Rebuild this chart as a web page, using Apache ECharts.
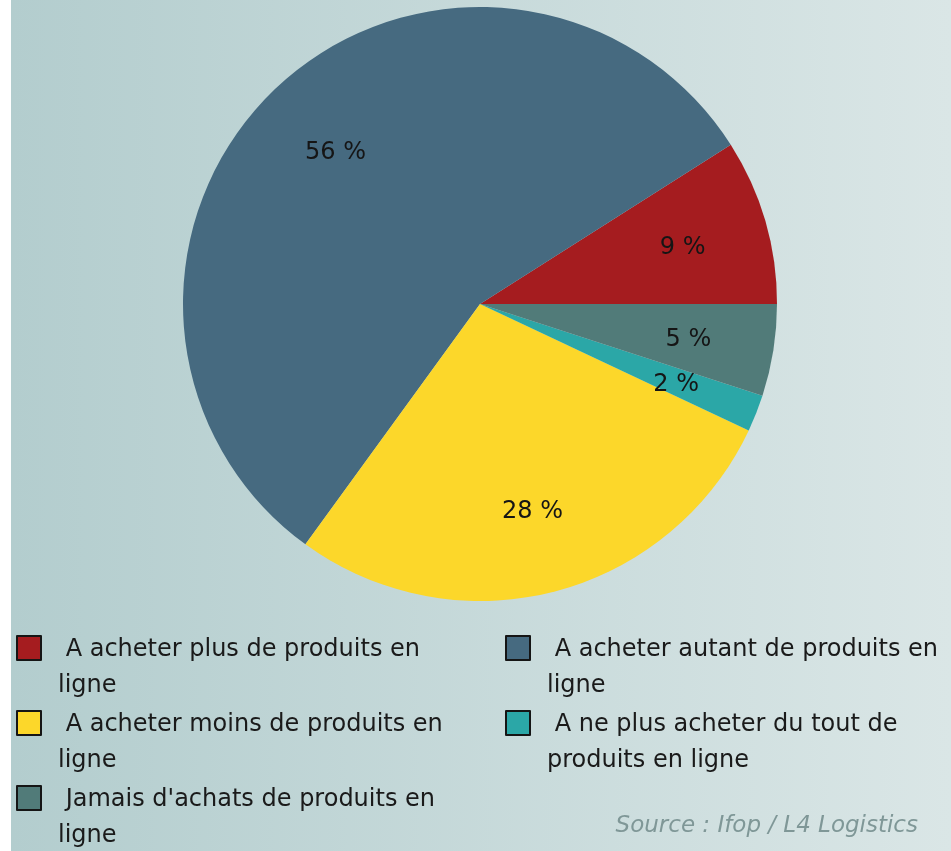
<!DOCTYPE html>
<html>
<head>
<meta charset="utf-8">
<script src="https://cdn.jsdelivr.net/npm/echarts@6/dist/echarts.min.js"></script>
<style>
  html, body { margin: 0; padding: 0; background: #fff; }
  #chart { width: 951px; height: 851px; }
</style>
</head>
<body>
<div id="chart"></div>
<script>
  // slices, counter-clockwise from 3 o'clock
  const categories = [
    'A acheter plus de produits en ligne',
    'A acheter autant de produits en ligne',
    'A acheter moins de produits en ligne',
    'A ne plus acheter du tout de produits en ligne',
    "Jamais d'achats de produits en ligne"
  ]
  const shares = [9, 56, 28, 2, 5]
  const sliceColors = ['#a51c1f', '#466a80', '#fcd72a', '#2ba7a7', '#517b79']
  const leftLegend = [categories[0], categories[2], categories[4]]
  const rightLegend = [categories[1], categories[3]]
  const sourceText = 'Source : Ifop / L4 Logistics'

  const font = 'DejaVu Sans'

  const chart = echarts.init(document.getElementById('chart'), null, { renderer: 'canvas' })

  const pieData = categories.map((name, i) => ({
    name,
    value: shares[i],
    itemStyle: { color: sliceColors[i] }
  }))

  // square at the top of a 26x72 box, so it lines up with the first text line
  const squareIcon = 'path://M0,0L0,0M1,4L25,4L25,28L1,28ZM26,72L26,72'

  function makeLegend(names, left) {
    return {
      data: names,
      orient: 'vertical',
      left,
      top: 631,
      height: 400,
      padding: 0,
      itemGap: 1,
      itemWidth: 26,
      itemHeight: 72,
      icon: squareIcon,
      selectedMode: false,
      itemStyle: { borderColor: '#151515', borderWidth: 2 },
      formatter: (name) => ' ' + name,
      textStyle: {
        fontFamily: font,
        fontSize: 24,
        lineHeight: 36,
        color: '#1a1a1a',
        width: 420,
        overflow: 'break',
        padding: [0, 0, 0, 11]
      }
    }
  }

  const option = {
    animation: false,
    backgroundColor: {
      type: 'linear',
      x: 0, y: 0, x2: 1, y2: 0,
      colorStops: [
        { offset: 0, color: '#ffffff' },
        { offset: 0.0116, color: '#ffffff' },
        { offset: 0.0117, color: '#b3cdce' },
        { offset: 1, color: '#dae6e6' }
      ]
    },
    title: {
      text: sourceText,
      right: 33,
      top: 815,
      padding: 0,
      textStyle: {
        fontFamily: font,
        fontSize: 23,
        fontStyle: 'italic',
        fontWeight: 'normal',
        color: '#7f9797'
      }
    },
    legend: [makeLegend(leftLegend, 15), makeLegend(rightLegend, 504)],
    series: [
      {
        name: 'slices',
        type: 'pie',
        center: [480, 304],
        radius: [0, 297],
        startAngle: 0,
        clockwise: false,
        silent: true,
        itemStyle: { borderWidth: 0 },
        label: { show: false },
        labelLine: { show: false },
        data: pieData
      },
      {
        // transparent ring only to place the labels at 70% of the radius
        name: 'labels',
        type: 'pie',
        center: [480, 304],
        radius: [119, 297],
        startAngle: 0,
        clockwise: false,
        silent: true,
        legendHoverLink: false,
        itemStyle: { color: 'rgba(0,0,0,0)', borderWidth: 0 },
        label: {
          show: true,
          position: 'inside',
          formatter: '{c} %',
          fontFamily: font,
          fontSize: 24,
          color: '#151515',
          textBorderWidth: 0
        },
        labelLayout: { dy: 3 },
        labelLine: { show: false },
        data: categories.map((name, i) => ({ name, value: shares[i] }))
      }
    ]
  }

  chart.setOption(option)
</script>
</body>
</html>
